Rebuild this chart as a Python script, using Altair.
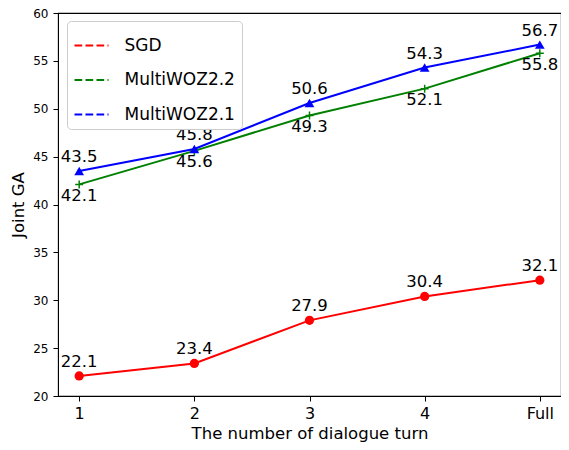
import altair as alt
import pandas as pd

turns = ["1", "2", "3", "4", "Full"]
series_names = ["SGD", "MultiWOZ2.2", "MultiWOZ2.1"]
sgd = [22.1, 23.4, 27.9, 30.4, 32.1]
woz22 = [42.1, 45.6, 49.3, 52.1, 55.8]
woz21 = [43.5, 45.8, 50.6, 54.3, 56.7]
colors = ["#ff0000", "#008000", "#0000ff"]
y_ticks = [20, 25, 30, 35, 40, 45, 50, 55, 60]

rows = []
for name, vals in zip(series_names, [sgd, woz22, woz21]):
    for t, v in zip(turns, vals):
        rows.append({"series": name, "turn": t, "value": v, "label": f"{v:.1f}"})
df = pd.DataFrame(rows)

FONT = "DejaVu Sans"

x_enc = alt.X("turn:N", sort=turns, scale=alt.Scale(type="point", padding=0.184),
              axis=alt.Axis(title="The number of dialogue turn", labelAngle=0,
                            labelFontSize=16, titleFontSize=16.5, titleFontWeight="normal",
                            labelPadding=4, titlePadding=4, tickSize=5,
                            domainColor="black", tickColor="black", labelColor="black",
                            titleColor="black", grid=False))
y_enc = alt.Y("value:Q", scale=alt.Scale(domain=[20, 60], nice=False, zero=False),
              axis=alt.Axis(title="Joint GA", values=y_ticks, labelFontSize=12,
                            titleFontSize=16.5, titleFontWeight="normal", labelPadding=5,
                            titlePadding=6, tickSize=5, domainColor="black",
                            tickColor="black", labelColor="black", titleColor="black",
                            grid=False))
color_enc = alt.Color("series:N",
                      scale=alt.Scale(domain=series_names, range=colors),
                      sort=series_names,
                      legend=alt.Legend(title=None, orient="none", legendX=9, legendY=8,
                                        symbolType="stroke", symbolSize=1156,
                                        symbolStrokeWidth=2, symbolDash=[7.7, 3.3],
                                        labelFontSize=17, labelColor="black",
                                        labelOffset=15, rowPadding=8.5, padding=6.5,
                                        fillColor="white", strokeColor="#cccccc",
                                        cornerRadius=4))

base = alt.Chart(df)

lines = base.mark_line(strokeWidth=2).encode(x=x_enc, y=y_enc, color=color_enc)

circles = base.transform_filter(alt.datum.series == "SGD").mark_point(
    shape="circle", filled=True, size=85, color=colors[0], opacity=1
).encode(x=x_enc, y=y_enc)

triangles = base.transform_filter(alt.datum.series == "MultiWOZ2.1").mark_point(
    shape="triangle-up", filled=True, size=95, color=colors[2], opacity=1
).encode(x=x_enc, y=y_enc)

pluses = base.transform_filter(alt.datum.series == "MultiWOZ2.2").mark_point(
    shape="M-1,0L1,0M0,-1L0,1", filled=False, size=64, color=colors[1],
    strokeWidth=1.5, opacity=1
).encode(x=x_enc, y=y_enc)

text_above = base.transform_filter(
    (alt.datum.series == "SGD") | (alt.datum.series == "MultiWOZ2.1")
).mark_text(fontSize=16.5, dy=-9, baseline="alphabetic", align="center", color="black",
            font=FONT).encode(x=x_enc, y=y_enc, text="label:N")

text_below = base.transform_filter(alt.datum.series == "MultiWOZ2.2").mark_text(
    fontSize=16.5, dy=16.5, baseline="alphabetic", align="center", color="black",
    font=FONT).encode(x=x_enc, y=y_enc, text="label:N")

chart = alt.layer(lines, circles, pluses, triangles, text_above, text_below).properties(
    width=503, height=383,
    autosize=alt.AutoSizeParams(type="none"),
    padding={"left": 50, "top": 5, "right": 0, "bottom": 46},
).configure(font=FONT).configure_view(stroke="black", strokeWidth=1.1)

chart.save("out.html", embed_options={"renderer": "svg", "actions": False})
